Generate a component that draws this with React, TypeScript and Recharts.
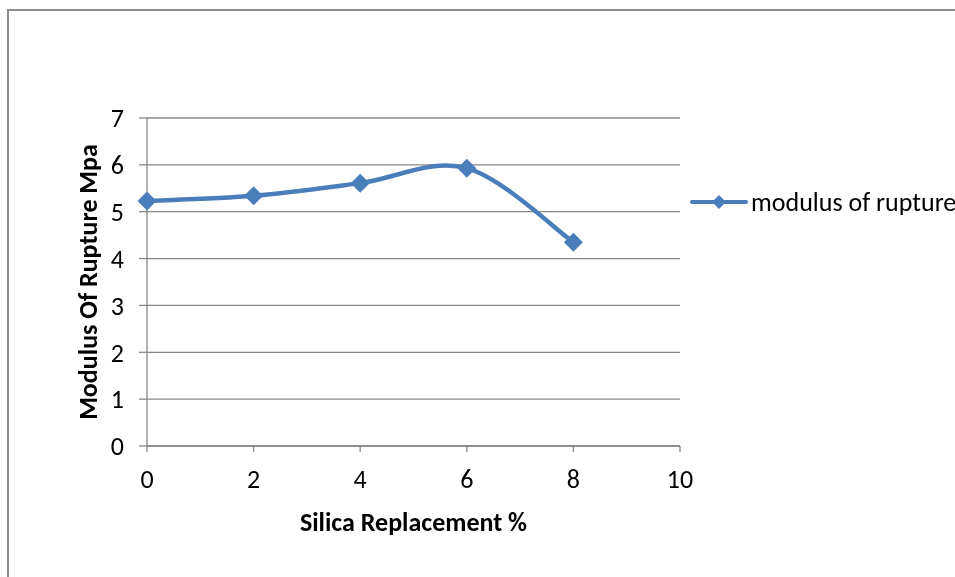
import React from "react";
import {
  LineChart,
  Line,
  XAxis,
  YAxis,
  CartesianGrid,
  Legend,
} from "recharts";

const silicaPct = [0, 2, 4, 6, 8];
const rupture = [5.23, 5.34, 5.61, 5.93, 4.35];
const xTicks = [0, 2, 4, 6, 8, 10];
const yTicks = [0, 1, 2, 3, 4, 5, 6, 7];
const seriesName = "modulus of rupture";

const data = silicaPct.map((x, i) => ({ x, y: rupture[i] }));

const BLUE = "#4a7ebb";
const GREY = "#878787";
const FONT = "Carlito, 'Liberation Sans', Arial, sans-serif";
const FS = 26;

// Excel-style smoothed line (Catmull-Rom as cubic beziers)
const excelCurve = (ctx: any) => {
  let pts: number[][] = [];
  return {
    areaStart() {},
    areaEnd() {},
    lineStart() {
      pts = [];
    },
    point(x: number, y: number) {
      pts.push([+x, +y]);
    },
    lineEnd() {
      if (!pts.length) return;
      ctx.moveTo(pts[0][0], pts[0][1]);
      for (let i = 0; i < pts.length - 1; i++) {
        const p0 = pts[i - 1] || pts[i];
        const p1 = pts[i];
        const p2 = pts[i + 1];
        const p3 = pts[i + 2] || p2;
        ctx.bezierCurveTo(
          p1[0] + (p2[0] - p0[0]) / 6,
          p1[1] + (p2[1] - p0[1]) / 6,
          p2[0] - (p3[0] - p1[0]) / 6,
          p2[1] - (p3[1] - p1[1]) / 6,
          p2[0],
          p2[1]
        );
      }
    },
  };
};

const diamond = (cx: number, cy: number, r: number) =>
  `M${cx},${cy - r}L${cx + r},${cy}L${cx},${cy + r}L${cx - r},${cy}Z`;

const Dot = (props: any) => {
  const { cx, cy, index } = props;
  return <path key={`d-${index}`} d={diamond(cx, cy, 9.5)} fill={BLUE} />;
};

const renderLegend = () => (
  <svg width={270} height={30} style={{ overflow: "visible" }}>
    <line x1={2} y1={12} x2={56} y2={12} stroke={BLUE} strokeWidth={4} strokeLinecap="round" />
    <path d={diamond(29, 12, 7)} fill={BLUE} />
    <text x={61} y={12} dominantBaseline="central" fontSize={FS} fontFamily={FONT} fill="#000">
      {seriesName}
    </text>
  </svg>
);

export default function App() {
  return (
    <>
      <div
        style={{
          position: "fixed",
          left: 7,
          top: 9,
          width: 2000,
          height: 2000,
          border: "2px solid #8c8c8c",
        }}
      />
      <div style={{ position: "fixed", left: 0, top: 0 }}>
        <LineChart
          width={955}
          height={577}
          data={data}
          margin={{ top: 118, right: 275, bottom: 41, left: 60 }}
        >
          <CartesianGrid horizontal vertical={false} stroke={GREY} strokeWidth={1.3} />
          <XAxis
            dataKey="x"
            type="number"
            domain={[0, 10]}
            ticks={xTicks}
            height={90}
            stroke={GREY}
            strokeWidth={1.3}
            tickSize={6}
            tickMargin={18}
            tick={{ fill: "#000", fontSize: FS, fontFamily: FONT }}
            label={{
              value: "Silica Replacement %",
              position: "insideBottom",
              offset: 5,
              fill: "#000",
              fontSize: FS,
              fontWeight: "bold",
              fontFamily: FONT,
            }}
          />
          <YAxis
            type="number"
            domain={[0, 7]}
            ticks={yTicks}
            width={87}
            stroke={GREY}
            strokeWidth={1.3}
            tickSize={8}
            tickMargin={15}
            tick={{ fill: "#000", fontSize: FS, fontFamily: FONT }}
            label={{
              value: "Modulus Of Rupture Mpa",
              angle: -90,
              position: "insideLeft",
              offset: 28,
              fill: "#000",
              fontSize: FS,
              fontWeight: "bold",
              fontFamily: FONT,
              style: { textAnchor: "middle" },
            }}
          />
          <Legend
            layout="vertical"
            align="center"
            verticalAlign="middle"
            content={renderLegend}
            wrapperStyle={{ left: 690, top: 190, width: 265 }}
          />
          <Line
            dataKey="y"
            name={seriesName}
            type={excelCurve as any}
            stroke={BLUE}
            strokeWidth={4.5}
            dot={Dot}
            activeDot={false}
            isAnimationActive={false}
          />
        </LineChart>
      </div>
    </>
  );
}
